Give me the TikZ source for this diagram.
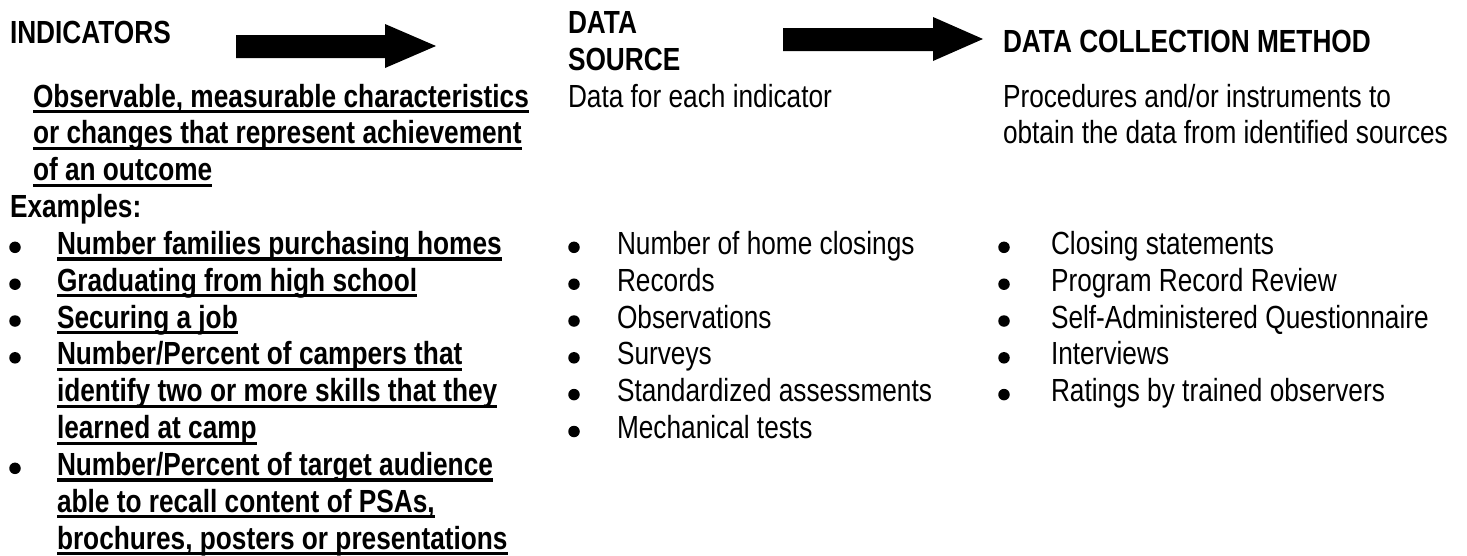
\documentclass[tikz,border=0pt]{standalone}
\usepackage{fontspec}
\setmainfont{Liberation Sans}[FakeStretch=0.82]
\newcommand\txtsize{\fontsize{32}{36.8}\selectfont}
\tikzset{
  txtline/.style={anchor=base west, inner sep=0pt, outer sep=0pt, font=\txtsize},
  boldline/.style={txtline, font=\txtsize\bfseries},
  bulletdot/.style={circle, fill=black, inner sep=0pt, minimum size=11.5pt},
  blockarrow/.style={fill=black, draw=none},
  underrule/.style={draw=black, line width=3.2pt}
}
\begin{document}
\begin{tikzpicture}[x=1pt,y=-1pt]
\useasboundingbox (0,0) rectangle (1467,555);
% headings
\node[boldline] (hind) at (10,43) {INDICATORS};
\node[boldline] (hds1) at (568,33) {DATA};
\node[boldline] (hds2) at (568,70) {SOURCE};
\node[boldline] (hdcm) at (1003,52) {DATA COLLECTION METHOD};
% block arrows
\fill[blockarrow] (236,35) -- (385,35) -- (385,24) -- (436,46) -- (385,68) -- (385,58) -- (236,58) -- cycle;
\fill[blockarrow] (783,28) -- (933,28) -- (933,17) -- (983,39) -- (933,61) -- (933,51) -- (783,51) -- cycle;
% descriptions
\node[boldline] (d1) at (33,107) {Observable, measurable characteristics};
\node[boldline] (d2) at (33,143.8) {or changes that represent achievement};
\node[boldline] (d3) at (33,180.7) {of an outcome};
\node[txtline] (ds) at (568,107) {Data for each indicator};
\node[txtline] (dm1) at (1003,107) {Procedures and/or instruments to};
\node[txtline] (dm2) at (1003,143.8) {obtain the data from identified sources};
\node[boldline] (ex) at (10,217.5) {Examples:};
% left column bullets
\node[bulletdot] (lb1) at (15,247.3) {};
\node[boldline] (l1) at (57,254.3) {Number families purchasing homes};
\node[bulletdot] (lb2) at (15,284.2) {};
\node[boldline] (l2) at (57,291.2) {Graduating from high school};
\node[bulletdot] (lb3) at (15,321) {};
\node[boldline] (l3) at (57,328) {Securing a job};
\node[bulletdot] (lb4) at (15,357.8) {};
\node[boldline] (l4a) at (57,364.8) {Number/Percent of campers that};
\node[boldline] (l4b) at (57,401.6) {identify two or more skills that they};
\node[boldline] (l4c) at (57,438.5) {learned at camp};
\node[bulletdot] (lb5) at (15,468.3) {};
\node[boldline] (l5a) at (57,475.3) {Number/Percent of target audience};
\node[boldline] (l5b) at (57,512.1) {able to recall content of PSAs,};
\node[boldline] (l5c) at (57,549) {brochures, posters or presentations};
% underlines
\foreach \n in {d1,d2,d3,l1,l2,l3,l4a,l4b,l4c,l5a,l5b,l5c}
  \draw[underrule] ([yshift=-4.6pt]\n.base west) -- ([yshift=-4.6pt]\n.base east);
% middle column bullets
\node[bulletdot] (mb1) at (574,247.3) {};
\node[txtline] (m1) at (617,254.3) {Number of home closings};
\node[bulletdot] (mb2) at (574,284.2) {};
\node[txtline] (m2) at (617,291.2) {Records};
\node[bulletdot] (mb3) at (574,321) {};
\node[txtline] (m3) at (617,328) {Observations};
\node[bulletdot] (mb4) at (574,357.8) {};
\node[txtline] (m4) at (617,364.8) {Surveys};
\node[bulletdot] (mb5) at (574,394.6) {};
\node[txtline] (m5) at (617,401.6) {Standardized assessments};
\node[bulletdot] (mb6) at (574,431.5) {};
\node[txtline] (m6) at (617,438.5) {Mechanical tests};
% right column bullets
\node[bulletdot] (rb1) at (1004,247.3) {};
\node[txtline] (r1) at (1051,254.3) {Closing statements};
\node[bulletdot] (rb2) at (1004,284.2) {};
\node[txtline] (r2) at (1051,291.2) {Program Record Review};
\node[bulletdot] (rb3) at (1004,321) {};
\node[txtline] (r3) at (1051,328) {Self-Administered Questionnaire};
\node[bulletdot] (rb4) at (1004,357.8) {};
\node[txtline] (r4) at (1051,364.8) {Interviews};
\node[bulletdot] (rb5) at (1004,394.6) {};
\node[txtline] (r5) at (1051,401.6) {Ratings by trained observers};
\end{tikzpicture}
\end{document}
